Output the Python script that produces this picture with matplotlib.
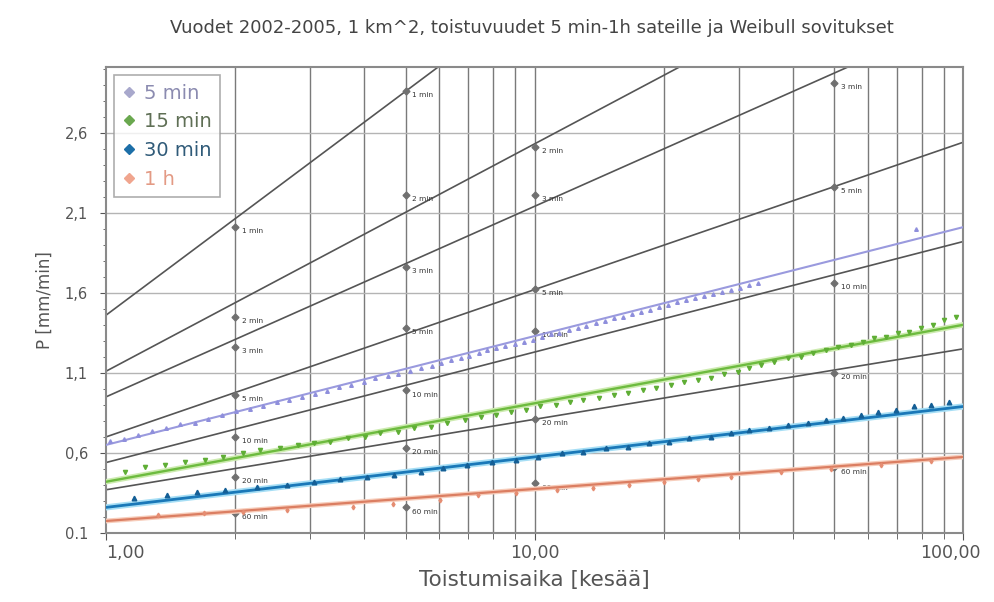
import matplotlib.pyplot as plt
import matplotlib.transforms as mtransforms
from matplotlib.ticker import FixedLocator, NullFormatter

plt.rcParams['font.family'] = ['DejaVu Sans']

title = "Vuodet 2002-2005, 1 km^2, toistuvuudet 5 min-1h sateille ja Weibull sovitukset"
xlabel = "Toistumisaika [kesää]"
ylabel = "P [mm/min]"

# observed intensities (return period T in years, P in mm/min)
t_5min = [1.02, 1.10, 1.19, 1.28, 1.38, 1.49, 1.61, 1.73, 1.87, 2.01, 2.17, 2.33,
          2.50, 2.68, 2.87, 3.08, 3.28, 3.50, 3.74, 3.99, 4.25, 4.54, 4.81, 5.11,
          5.42, 5.75, 6.06, 6.40, 6.72, 7.05, 7.40, 7.76, 8.15, 8.55, 8.98, 9.43,
          9.89, 10.4, 10.9, 11.4, 12.0, 12.6, 13.2, 13.9, 14.6, 15.3, 16.1, 16.9,
          17.7, 18.6, 19.5, 20.5, 21.5, 22.5, 23.7, 24.8, 26.1, 27.4, 28.7, 30.1,
          31.6, 33.2, 77.7]
p_5min = [0.675, 0.69, 0.715, 0.735, 0.755, 0.78, 0.79, 0.815, 0.835, 0.86, 0.875, 0.89,
          0.915, 0.93, 0.95, 0.97, 0.985, 1.01, 1.025, 1.04, 1.065, 1.08, 1.095, 1.11,
          1.13, 1.145, 1.16, 1.18, 1.195, 1.205, 1.225, 1.24, 1.255, 1.27, 1.28, 1.295,
          1.305, 1.325, 1.34, 1.35, 1.37, 1.38, 1.395, 1.41, 1.425, 1.44, 1.45, 1.47,
          1.48, 1.495, 1.51, 1.525, 1.54, 1.555, 1.57, 1.58, 1.595, 1.605, 1.62, 1.63,
          1.65, 1.66, 2.0]

t_15min = [1.11, 1.23, 1.37, 1.53, 1.70, 1.88, 2.09, 2.29, 2.55, 2.80, 3.05, 3.34,
           3.68, 4.03, 4.37, 4.79, 5.22, 5.72, 6.26, 6.90, 7.48, 8.11, 8.79, 9.53,
           10.3, 11.2, 12.1, 13.0, 14.1, 15.3, 16.5, 17.9, 19.2, 20.8, 22.3, 24.0,
           25.8, 27.7, 29.8, 31.6, 33.7, 36.2, 39.0, 41.8, 44.6, 47.9, 51.1, 54.7,
           58.4, 62.0, 66.1, 70.5, 74.8, 79.8, 85.1, 90.3, 96.3]
p_15min = [0.48, 0.51, 0.525, 0.545, 0.555, 0.575, 0.60, 0.62, 0.63, 0.65, 0.665, 0.67,
           0.695, 0.70, 0.725, 0.73, 0.755, 0.76, 0.79, 0.805, 0.825, 0.84, 0.855, 0.87,
           0.89, 0.90, 0.92, 0.93, 0.945, 0.96, 0.975, 0.995, 1.005, 1.025, 1.04, 1.055,
           1.07, 1.09, 1.105, 1.13, 1.15, 1.17, 1.195, 1.20, 1.225, 1.245, 1.26, 1.275,
           1.295, 1.32, 1.325, 1.35, 1.355, 1.38, 1.40, 1.43, 1.45]

t_30min = [1.16, 1.39, 1.63, 1.90, 2.25, 2.65, 3.05, 3.52, 4.07, 4.69, 5.42, 6.13,
           6.97, 7.97, 9.03, 10.2, 11.6, 13.0, 14.7, 16.5, 18.5, 20.6, 22.9, 25.8,
           28.7, 31.6, 35.2, 39.0, 43.4, 47.9, 52.5, 57.8, 63.2, 69.7, 76.8, 84.2, 92.7]
p_30min = [0.32, 0.34, 0.355, 0.37, 0.39, 0.40, 0.42, 0.44, 0.45, 0.465, 0.48, 0.505,
           0.525, 0.545, 0.555, 0.575, 0.60, 0.605, 0.63, 0.64, 0.66, 0.67, 0.695, 0.70,
           0.725, 0.745, 0.755, 0.775, 0.79, 0.805, 0.82, 0.84, 0.855, 0.87, 0.89, 0.90, 0.92]

t_1h = [1.32, 1.69, 2.09, 2.65, 3.78, 4.68, 6.03, 7.36, 9.03, 11.3, 13.7, 16.6,
        20.0, 24.0, 28.7, 37.6, 49.2, 64.3, 84.2]
p_1h = [0.21, 0.225, 0.23, 0.245, 0.26, 0.28, 0.305, 0.335, 0.35, 0.37, 0.38, 0.40,
        0.42, 0.435, 0.45, 0.48, 0.50, 0.525, 0.55]

# Weibull fits, value at T=1 and T=100
fit_T = [1, 100]
fit_5min = [0.65, 2.01]
fit_15min = [0.42, 1.40]
fit_30min = [0.26, 0.89]
fit_1h = [0.175, 0.575]

# reference lines (black), value at T=1 and T=100
ref_start = [1.46, 1.11, 0.95, 0.70, 0.54, 0.37, 0.175]
ref_end = [5.46, 3.95, 3.33, 2.54, 1.92, 1.25, 0.575]

# labelled reference points
mark_T = [2, 2, 2, 2, 2, 2, 2,
          5, 5, 5, 5, 5, 5, 5,
          10, 10, 10, 10, 10, 10,
          50, 50, 50, 50, 50]
mark_P = [2.01, 1.45, 1.26, 0.96, 0.70, 0.45, 0.225,
          2.86, 2.21, 1.76, 1.38, 0.99, 0.63, 0.26,
          2.51, 2.21, 1.625, 1.36, 0.81, 0.41,
          2.91, 2.26, 1.66, 1.10, 0.51]
mark_lab = ["1 min", "2 min", "3 min", "5 min", "10 min", "20 min", "60 min",
            "1 min", "2 min", "3 min", "5 min", "10 min", "20 min", "60 min",
            "2 min", "3 min", "5 min", "10 min", "20 min", "60 min",
            "3 min", "5 min", "10 min", "20 min", "60 min"]

yticks = [0.1, 0.6, 1.1, 1.6, 2.1, 2.6]
ytick_labels = ["0.1", "0,6", "1,1", "1,6", "2,1", "2,6"]
xticks = [1, 10, 100]
xtick_labels = ["1,00", "10,00", "100,00"]

c5, c15, c30, c60 = "#9a9ade", "#6dbb3f", "#1a78b8", "#e88a6c"
grey = "#555555"
txtc = "#555555"

fig = plt.figure(figsize=(9.95, 6.02), dpi=100)
ax = fig.add_axes([0.1065, 0.1146, 0.8615, 0.7741])
ax.set_xscale("log")
ax.set_xlim(1, 100)
ax.set_ylim(0.1, 3.01)

# grid
minor_x = [2, 3, 4, 5, 6, 7, 8, 9, 20, 30, 40, 50, 60, 70, 80, 90]
for xv in minor_x + [10]:
    ax.axvline(xv, color="#7a7a7a", lw=1.0, zorder=1)
for yv in yticks[1:]:
    ax.axhline(yv, color="#b4b4b4", lw=1.0, zorder=1)

# reference lines
for a, b in zip(ref_start, ref_end):
    ax.plot(fit_T, [a, b], color=grey, lw=1.2, zorder=2)

ax.plot(mark_T, mark_P, linestyle="none", marker="D", ms=3.5, color="#707070", zorder=3)
for t, p, lab in zip(mark_T, mark_P, mark_lab):
    ax.annotate(lab, (t, p), xytext=(5, -3), textcoords="offset points",
                fontsize=5.3, color="#333333", va="center", zorder=4)

# Weibull fits
ax.plot(fit_T, fit_5min, color=c5, lw=1.5, zorder=4)
ax.plot(fit_T, fit_15min, color="#cdebb0", lw=4.0, zorder=4)
ax.plot(fit_T, fit_15min, color=c15, lw=1.7, zorder=4)
ax.plot(fit_T, fit_30min, color="#a6def5", lw=4.5, zorder=4)
ax.plot(fit_T, fit_30min, color=c30, lw=2.0, zorder=4)
ax.plot(fit_T, fit_1h, color="#f7cdbb", lw=3.5, zorder=4)
ax.plot(fit_T, fit_1h, color="#db7e62", lw=1.6, zorder=4)

# observations
ax.plot(t_5min, p_5min, linestyle="none", marker="^", ms=2.6, color="#8f8fdc", zorder=5)
ax.plot(t_15min, p_15min, linestyle="none", marker="v", ms=3.0, color="#5fae35", zorder=5)
ax.plot(t_30min, p_30min, linestyle="none", marker="^", ms=3.3, color="#145f96", zorder=5)
ax.plot(t_1h, p_1h, linestyle="none", marker="d", ms=2.4, color="#e58d72", zorder=5)

# axes, ticks
for s in ax.spines.values():
    s.set_color("#8a8a8a")
    s.set_linewidth(1.5)
ax.xaxis.set_major_locator(FixedLocator(xticks))
ax.xaxis.set_minor_locator(FixedLocator(minor_x))
ax.xaxis.set_minor_formatter(NullFormatter())
ax.set_xticklabels(xtick_labels)
ax.set_yticks(yticks)
ax.set_yticklabels(ytick_labels)
ax.yaxis.set_minor_locator(FixedLocator([0.1 + 0.1 * i for i in range(30)]))
ax.tick_params(axis="both", which="both", direction="out", color="#555555",
               labelcolor=txtc)
ax.tick_params(axis="x", which="major", length=5, pad=3, labelsize=12.5)
ax.tick_params(axis="x", which="minor", length=4)
ax.tick_params(axis="y", which="major", length=4, pad=9, labelsize=10.5)
ax.tick_params(axis="y", which="minor", length=2)

xl = ax.get_xticklabels()
xl[0].set_horizontalalignment("left")
xl[2].set_transform(xl[2].get_transform() +
                    mtransforms.ScaledTranslation(-13 / 100, 0, fig.dpi_scale_trans))

ax.set_xlabel(xlabel, fontsize=15.5, color=txtc, labelpad=6)
ax.set_ylabel(ylabel, fontsize=12, color=txtc, labelpad=8)
fig.text(0.535, 0.953, title, ha="center", va="center", fontsize=13, color="#444444")

# legend
h5, = ax.plot([], [], linestyle="none", marker="D", ms=5, color="#a8a8cc")
h15, = ax.plot([], [], linestyle="none", marker="D", ms=5, color="#6aa84f")
h30, = ax.plot([], [], linestyle="none", marker="D", ms=5, color="#1d6fa8")
h60, = ax.plot([], [], linestyle="none", marker="D", ms=5, color="#f0a58e")
leg = ax.legend([h5, h15, h30, h60], ["5 min", "15 min", "30 min", "1 h"],
                loc="upper left", fontsize=14, frameon=True, fancybox=False,
                handlelength=0.7, handletextpad=0.4, labelspacing=0.5,
                borderaxespad=0.4, borderpad=0.45)
leg.get_frame().set_edgecolor("#999999")
leg.get_frame().set_linewidth(1.2)
for txt, col in zip(leg.get_texts(), ["#8b8bb0", "#5f6f55", "#2f5a78", "#e39a84"]):
    txt.set_color(col)

fig.savefig("out.png", dpi=100)
